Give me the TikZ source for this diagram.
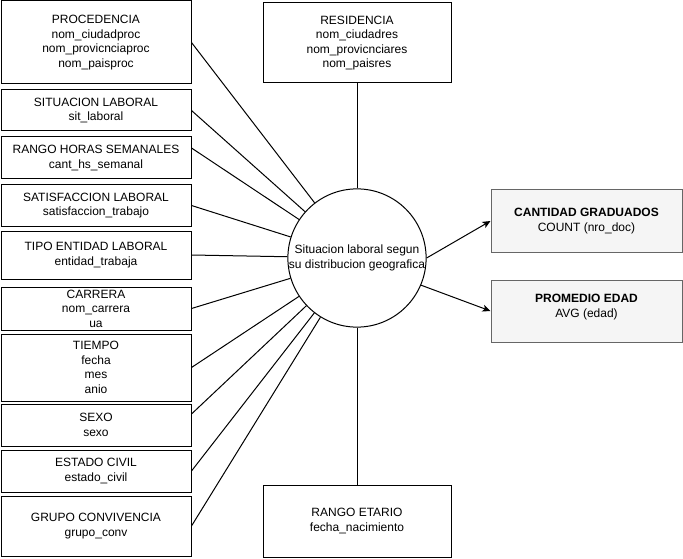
\documentclass[tikz,border=0pt]{standalone}
\usepackage{fontspec}
\setmainfont{Liberation Sans}
\usetikzlibrary{arrows.meta}
\definecolor{measfill}{HTML}{F5F5F5}
\definecolor{measline}{HTML}{666666}

\begin{document}
\begin{tikzpicture}[x=1pt, y=-1pt, line width=1pt, font=\fontsize{12}{14.5}\selectfont,
        dim/.style={draw, align=center, inner sep=0pt, minimum width=190pt},
        meas/.style={draw=measline, fill=measfill, align=center, inner sep=0pt, minimum width=191pt, minimum height=62pt},
        tip/.style={-{Stealth[length=8pt, width=7pt, inset=2pt]}}]
        \useasboundingbox (0,0) rectangle (683,559);
        % Dimension boxes on the left
        \node[dim, minimum height=83pt] (proc) at (96,42.5) {PROCEDENCIA\\nom\_ciudadproc\\nom\_provicnciaproc\\nom\_paisproc};
        \node[dim, minimum height=41pt] (sitl) at (96,110.5) {SITUACION LABORAL\\sit\_laboral};
        \node[dim, minimum height=42pt] (rhs) at (96,158) {RANGO HORAS SEMANALES\\cant\_hs\_semanal};
        \node[dim, minimum height=41pt] (satl) at (96,205.5) {SATISFACCION LABORAL\\satisfaccion\_trabajo};
        \node[dim, minimum height=48pt] (tent) at (96,255) {TIPO ENTIDAD LABORAL\\entidad\_trabaja};
        \node[dim, minimum height=43pt] (carr) at (96,308.5) {CARRERA\\nom\_carrera\\ua};
        \node[dim, minimum height=67pt] (tiem) at (96,367.5) {TIEMPO\\fecha\\mes\\anio};
        \node[dim, minimum height=42pt] (sexo) at (96,425) {SEXO\\sexo};
        \node[dim, minimum height=42pt] (civ) at (96,471) {ESTADO CIVIL\\estado\_civil};
        \node[dim, minimum height=60pt] (conv) at (96,526) {GRUPO CONVIVENCIA\\grupo\_conv};
        % Dimension boxes above and below
        \node[dim, minimum width=188pt, minimum height=80pt] (resi) at (357,43) {RESIDENCIA\\nom\_ciudadres\\nom\_provicnciares\\nom\_paisres};
        \node[dim, minimum width=188pt, minimum height=72pt] (etar) at (357,521) {RANGO ETARIO\\fecha\_nacimiento};
        % Fact
        \node[circle, draw, minimum size=136pt, inner sep=0pt, align=center] (geo) at (357,258) {Situacion laboral segun\\su distribucion geografica};
        % Measures
        \node[meas] (cant) at (586.5,221) {\textbf{CANTIDAD GRADUADOS}\\COUNT (nro\_doc)};
        \node[meas] (prom) at (586.5,311) {\textbf{PROMEDIO EDAD}\\AVG (edad)\\[-4.5pt]};
        % Add edges
        \draw (proc.east) -- (geo);
        \draw (sitl.east) -- (geo);
        \draw ([yshift=10pt]rhs.east) -- (geo);
        \draw (satl.east) -- (geo);
        \draw (tent.east) -- (geo);
        \draw (carr.east) -- (geo);
        \draw (tiem.east) -- (geo);
        \draw ([yshift=11pt]sexo.east) -- (geo);
        \draw (civ.east) -- (geo);
        \draw (conv.east) -- (geo);
        \draw (resi) -- (geo);
        \draw (etar) -- (geo);
        \draw[tip] (geo.east) -- (cant.west);
        \draw[tip] (geo.-23) -- (prom.west);
    \end{tikzpicture}
\end{document}
